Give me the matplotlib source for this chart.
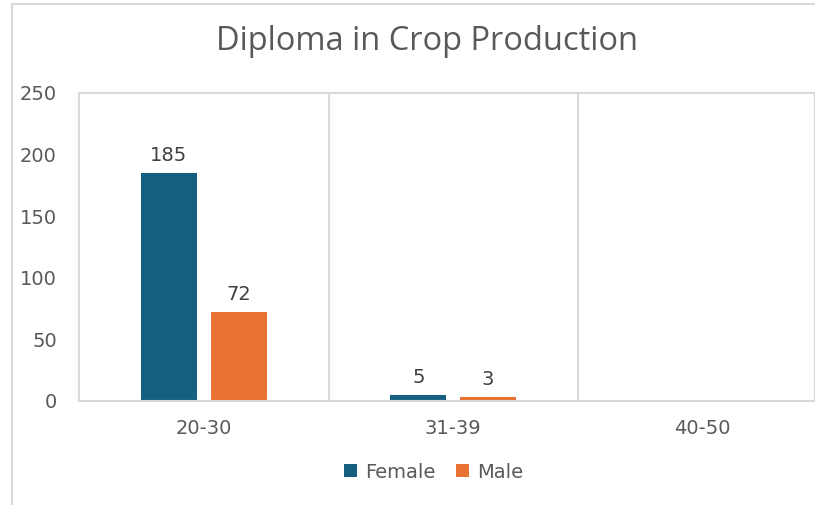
import matplotlib.pyplot as plt
import numpy as np
from matplotlib.lines import Line2D

plt.rcParams['font.family'] = ['DejaVu Sans']

# data
age_groups = ['20-30', '31-39', '40-50']
female = [185, 5, 0]
male = [72, 3, 0]
y_ticks = [0, 50, 100, 150, 200, 250]

grid_col = '#d9d9d9'
text_col = '#595959'

fig = plt.figure(figsize=(8.15, 5.05), dpi=100)
ax = fig.add_axes([79 / 815, 104 / 505, 736 / 815, 308 / 505])

x = np.arange(len(age_groups))
w = 0.225
b1 = ax.bar(x - 0.14, female, w, color='#156082', label='Female')
b2 = ax.bar(x + 0.14, male, w, color='#E97132', label='Male')

for bars in (b1, b2):
    labels = [str(v) if v else '' for v in bars.datavalues]
    ax.bar_label(bars, labels=labels, padding=6, fontsize=14, color='#404040')

ax.set_ylim(0, 250)
ax.set_xlim(-0.5, -0.5 + 736 / 249.5)
ax.set_yticks(y_ticks)
ax.set_xticks(x)
ax.set_xticklabels(age_groups)
ax.tick_params(axis='both', length=0, labelsize=14, labelcolor=text_col)
ax.tick_params(axis='y', pad=16)
ax.tick_params(axis='x', pad=13)

for s in ax.spines.values():
    s.set_color(grid_col)
    s.set_linewidth(1.5)
for xv in [0.5, 1.5, 2.5]:
    ax.axvline(xv, color=grid_col, lw=1.5, zorder=0)

fig.text(0.524, 1 - 41 / 505, 'Diploma in Crop Production', ha='center', va='center',
         fontsize=23.5, color=text_col, family=['Open Sans', 'DejaVu Sans'])

fig.legend(loc='center', bbox_to_anchor=(0.532, 0.065), ncol=2, frameon=False,
           handlelength=0.65, handleheight=0.65, handletextpad=0.4, columnspacing=1.1,
           prop={'size': 14}, labelcolor=text_col)

# outer chart frame (partly cropped in the screenshot)
fig.add_artist(Line2D([12 / 815, 12 / 815], [0, 1 - 4 / 505], color=grid_col, lw=1.5))
fig.add_artist(Line2D([12 / 815, 1], [1 - 4 / 505, 1 - 4 / 505], color=grid_col, lw=1.5))

fig.savefig('out.png', dpi=100)
